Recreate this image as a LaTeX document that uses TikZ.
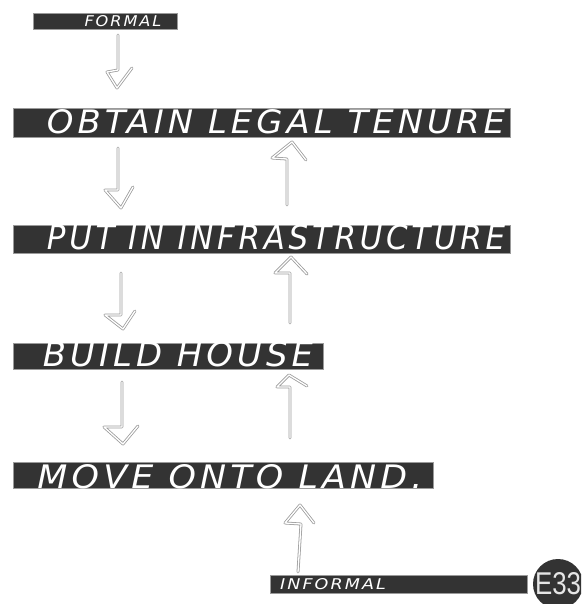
\documentclass[tikz,border=0pt]{standalone}
\usepackage{fontspec}
\usepackage{graphicx}
\setmainfont{DejaVu Sans}[LetterSpace=12]
\newfontfamily\badgefont{Liberation Sans}
\usetikzlibrary{calc}
\definecolor{bardark}{HTML}{333333}
\definecolor{barline}{HTML}{9A9A9A}
\definecolor{arrgray}{HTML}{9C9C9C}
\definecolor{badgetext}{HTML}{E6E6E6}
\tikzset{
  bar/.style={draw=barline, line width=0.6pt, fill=bardark},
  label/.style={text=white, inner sep=0pt, font=\itshape},
  arr/.style={draw=arrgray, double=white, double distance=1.3pt, line width=0.8pt, line cap=round, line join=round},
}
\newcommand\fit[3]{\resizebox{#1pt}{#2pt}{#3}}
\begin{document}
\begin{tikzpicture}[x=1pt,y=-1pt]
\useasboundingbox (0,0) rectangle (581,604);
\clip (0,0) rectangle (581,604);
% bars
\path[bar] (33,13) rectangle (177,29);
\node[inner sep=0pt, minimum size=0pt] (formal) at (105,21) {};
\path[bar] (13,108) rectangle (510,137);
\node[inner sep=0pt] (obtain) at (261,122) {};
\path[bar] (13,225) rectangle (510,253);
\node[inner sep=0pt] (infra) at (261,239) {};
\path[bar] (13,343) rectangle (323,369);
\node[inner sep=0pt] (build) at (168,356) {};
\path[bar] (13,462) rectangle (433,488);
\node[inner sep=0pt] (move) at (223,475) {};
\path[bar] (270,575) rectangle (527,593);
\node[inner sep=0pt] (informal) at (398,584) {};
% texts
\node[label] (tformal) at (123,21) {\fit{77}{11}{FORMAL}};
\node[label] (tobtain) at (276,122) {\fit{458}{24}{OBTAIN LEGAL TENURE}};
\node[label] (tinfra) at (276,237) {\fit{458}{25}{PUT IN INFRASTRUCTURE}};
\node[label] (tbuild) at (178,354) {\fit{270}{25}{BUILD HOUSE}};
\node[label] (tmove) at (230,477) {\fit{385}{24}{MOVE ONTO LAND.}};
\node[label] (tinformal) at (333,584) {\fit{106}{11}{INFORMAL}};
% badge
\fill[bardark] (558,584) circle (25);
\node[text=badgetext, inner sep=0pt, font=\badgefont] (badge) at (558,584) {\fit{46}{22}{E33}};
% down arrows
\coordinate (a1s) at (118,35); \coordinate (a1t) at (117,88);
\draw[arr] (a1s) -- (118,70) -- (107,72) -- (a1t) -- (132,68);
\coordinate (a2s) at (118,148); \coordinate (a2t) at (121,208);
\draw[arr] (a2s) -- (118,190) -- (105,190) -- (a2t) -- (133,187);
\coordinate (a3s) at (121,273); \coordinate (a3t) at (123,329);
\draw[arr] (a3s) -- (121,315) -- (105,315) -- (a3t) -- (135,311);
\coordinate (a4s) at (122,382); \coordinate (a4t) at (123,444);
\draw[arr] (a4s) -- (122,427) -- (104,427) -- (a4t) -- (138,426);
% up arrows
\coordinate (u1s) at (287,205); \coordinate (u1t) at (292,142);
\draw[arr] (u1s) -- (287,159) -- (272,158) -- (u1t) -- (306,160);
\coordinate (u2s) at (290,323); \coordinate (u2t) at (291,257);
\draw[arr] (u2s) -- (290,273) -- (275,273) -- (u2t) -- (307,274);
\coordinate (u3s) at (290,438); \coordinate (u3t) at (289,375);
\draw[arr] (u3s) -- (290,387) -- (277,387) -- (u3t) -- (307,386);
\coordinate (u4s) at (298,572); \coordinate (u4t) at (300,505);
\draw[arr] (u4s) -- (301,524) -- (285,523) -- (u4t) -- (314,523);
\end{tikzpicture}
\end{document}
